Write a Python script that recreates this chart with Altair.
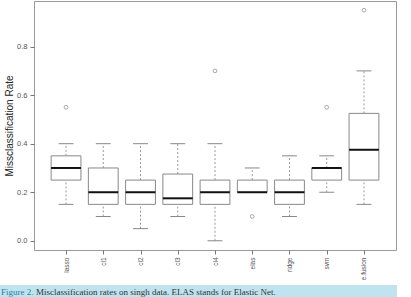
import altair as alt
import pandas as pd

methods = ["lasso", "cl1", "cl2", "cl3", "cl4", "elas", "ridge", "svm", "e.fusion"]
lower_whisker = [0.15, 0.10, 0.05, 0.10, 0.00, 0.20, 0.10, 0.20, 0.15]
q1 = [0.25, 0.15, 0.15, 0.15, 0.15, 0.20, 0.15, 0.25, 0.25]
median = [0.30, 0.20, 0.20, 0.175, 0.20, 0.20, 0.20, 0.30, 0.375]
q3 = [0.35, 0.30, 0.25, 0.275, 0.25, 0.25, 0.25, 0.30, 0.525]
upper_whisker = [0.40, 0.40, 0.40, 0.40, 0.40, 0.30, 0.35, 0.35, 0.70]
outlier_method = ["lasso", "cl4", "elas", "svm", "e.fusion"]
outlier_value = [0.55, 0.70, 0.10, 0.55, 0.95]

caption_label = "Figure 2."
caption_text = "Misclassification rates on singh data. ELAS stands for Elastic Net."

pos = {m: i + 1 for i, m in enumerate(methods)}
BOX_HALF = 0.4
CAP_HALF = 0.2

box = pd.DataFrame({
    "method": methods,
    "p": [pos[m] for m in methods],
    "lo": lower_whisker, "q1": q1, "med": median, "q3": q3, "hi": upper_whisker,
})
box["bl"] = box["p"] - BOX_HALF
box["br"] = box["p"] + BOX_HALF
box["cl"] = box["p"] - CAP_HALF
box["cr"] = box["p"] + CAP_HALF

wh = pd.concat([
    pd.DataFrame({"p": box["p"], "a": box["lo"], "b": box["q1"]}),
    pd.DataFrame({"p": box["p"], "a": box["q3"], "b": box["hi"]}),
])
caps = pd.concat([
    pd.DataFrame({"cl": box["cl"], "cr": box["cr"], "v": box["lo"]}),
    pd.DataFrame({"cl": box["cl"], "cr": box["cr"], "v": box["hi"]}),
])
outs = pd.DataFrame({"p": [pos[m] for m in outlier_method], "v": outlier_value})

label_expr = "[" + ",".join(f"'{m}'" for m in methods) + "][datum.value - 1]"

xscale = alt.Scale(domain=[0.14, 9.86], nice=False, zero=False)
yscale = alt.Scale(domain=[-0.038, 0.988], nice=False, zero=False)

xaxis = alt.Axis(values=list(range(1, 10)), labelExpr=label_expr, title=None,
                 labelAngle=-90, labelFontSize=6.5, labelColor="#555", tickColor="#777",
                 tickSize=4, domain=False, grid=False, labelPadding=3,
                 labelFont="Liberation Sans")
yaxis = alt.Axis(values=[0, 0.2, 0.4, 0.6, 0.8], format=".1f", title="Missclassification Rate",
                 titleFontSize=10, titleFontWeight="normal", titleColor="#222",
                 titlePadding=2, labelFontSize=7.5, labelColor="#555", tickColor="#777",
                 tickSize=4, domain=False, grid=False, labelPadding=3,
                 labelFont="Liberation Sans", titleFont="Liberation Sans")

base_x = alt.X("p:Q", scale=xscale, axis=xaxis)

whisk = alt.Chart(wh).mark_rule(color="#999", strokeDash=[2, 2], strokeWidth=1).encode(
    x=base_x, y=alt.Y("a:Q", scale=yscale, axis=yaxis), y2="b:Q")
cap = alt.Chart(caps).mark_rule(color="#888", strokeWidth=1).encode(
    x=alt.X("cl:Q", scale=xscale), x2="cr:Q", y=alt.Y("v:Q", scale=yscale))
rect = alt.Chart(box).mark_rect(fill="white", stroke="#888", strokeWidth=1).encode(
    x=alt.X("bl:Q", scale=xscale), x2="br:Q", y=alt.Y("q1:Q", scale=yscale), y2="q3:Q")
med = alt.Chart(box).mark_rule(color="#111", strokeWidth=2).encode(
    x=alt.X("bl:Q", scale=xscale), x2="br:Q", y=alt.Y("med:Q", scale=yscale))
pts = alt.Chart(outs).mark_point(shape="circle", filled=False, color="#777", size=14,
                                  strokeWidth=0.9).encode(
    x=alt.X("p:Q", scale=xscale), y=alt.Y("v:Q", scale=yscale))

capdf = pd.DataFrame({"a": [caption_label], "b": [caption_text]})
band = alt.Chart(capdf).mark_rect(color="#bfe3ef", clip=False).encode(
    x=alt.value(-34), x2=alt.value(363), y=alt.value(284), y2=alt.value(300))
t1 = alt.Chart(capdf).mark_text(align="left", baseline="alphabetic", font="Liberation Serif",
                                fontSize=9, color="#2a7fa8", clip=False).encode(
    x=alt.value(-33), y=alt.value(294), text="a:N")
t2 = alt.Chart(capdf).mark_text(align="left", baseline="alphabetic", font="Liberation Serif",
                                fontSize=9, color="#333", clip=False).encode(
    x=alt.value(2), y=alt.value(294), text="b:N")

chart = alt.layer(whisk, cap, rect, med, pts, band, t1, t2).properties(
    width=362, height=249,
    autosize=alt.AutoSizeParams(type="none"),
    padding={"left": 34, "top": 1, "right": 15, "bottom": 47},
    background="white",
).configure_view(stroke="#999", strokeWidth=1)

chart.save("out.html", embed_options={"renderer": "svg", "actions": False})
